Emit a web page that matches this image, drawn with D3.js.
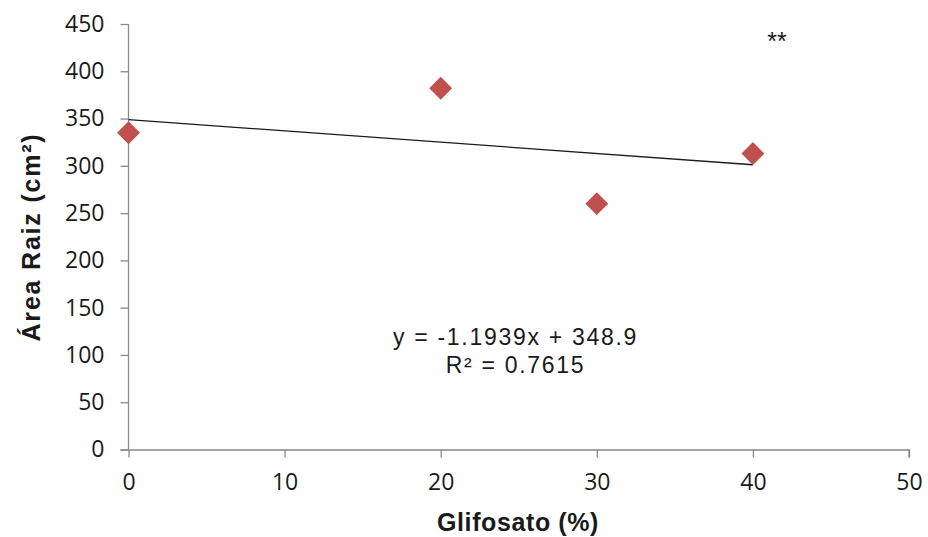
<!DOCTYPE html>
<html>
<head>
<meta charset="utf-8">
<script src="https://cdn.jsdelivr.net/npm/d3@7"></script>
<style>
  html, body { margin: 0; padding: 0; background: #fff; }
  svg { display: block; }
</style>
</head>
<body>
<svg id="chart" width="928" height="537"></svg>
<script>
// Glyphosate dose (%) and root area (cm²)
const doses = [0, 20, 30, 40];
const rootArea = [335, 382, 260, 313];
const xTicks = [0, 10, 20, 30, 40, 50];
const yTicks = [0, 50, 100, 150, 200, 250, 300, 350, 400, 450];
// Linear fit y = slope·x + intercept, R²
const slope = -1.1939;
const intercept = 348.9;
const rSquared = 0.7615;
const fitRange = [0, 40];

const svg = d3.select("#chart");
const margin = { left: 128.5, right: 19, top: 24, bottom: 87.5 };
const W = 928, H = 537;

const x = d3.scaleLinear().domain([0, 50]).range([margin.left, W - margin.right]);
const y = d3.scaleLinear().domain([0, 450]).range([H - margin.bottom, margin.top]);

const axisColor = "#888888";
const tickFont = "'Open Sans', sans-serif";
const textFont = "'Liberation Sans', Arial, sans-serif";

// Y axis
const yAxis = svg.append("g")
  .attr("transform", `translate(${margin.left},0)`)
  .call(d3.axisLeft(y).tickValues(yTicks).tickSize(8).tickPadding(16).tickFormat(d3.format("d")));
// X axis
const xAxis = svg.append("g")
  .attr("transform", `translate(0,${y(0)})`)
  .call(d3.axisBottom(x).tickValues(xTicks).tickSize(8).tickPadding(16).tickFormat(d3.format("d")));

[yAxis, xAxis].forEach(g => {
  g.select(".domain").attr("stroke", axisColor).attr("stroke-width", 1.3);
  g.selectAll(".tick line").attr("stroke", axisColor).attr("stroke-width", 1.3);
  g.selectAll(".tick text")
    .attr("fill", "#1a1a1a")
    .style("font-family", tickFont)
    .style("font-size", "23px");
});
xAxis.select(".domain").attr("d", `M${x(0) - 8},0.5H${x(50)}V8`);
yAxis.select(".domain").attr("d", `M0,${y(450)}V${y(0)}`);

// Trend line from the fitted equation
svg.append("line")
  .attr("x1", x(fitRange[0])).attr("y1", y(slope * fitRange[0] + intercept))
  .attr("x2", x(fitRange[1])).attr("y2", y(slope * fitRange[1] + intercept))
  .attr("stroke", "#1a1a1a").attr("stroke-width", 1.3);

// Diamond markers
const diamond = d3.symbol().type(d3.symbolSquare).size(262);
svg.append("g").selectAll("path")
  .data(doses.map((d, i) => ({ dose: d, area: rootArea[i] })))
  .join("path")
  .attr("d", diamond)
  .attr("transform", d => `translate(${x(d.dose)},${y(d.area)}) rotate(45)`)
  .attr("fill", "#C0504D");

// Equation and R²
const eq = svg.append("text")
  .attr("text-anchor", "middle")
  .style("font-family", textFont)
  .style("font-size", "23px")
  .style("letter-spacing", "1.7px")
  .attr("fill", "#1a1a1a");
eq.append("tspan").attr("x", 515.5).attr("y", 345)
  .text(`y = ${slope}x + ${intercept}`);
eq.append("tspan").attr("x", 515.5).attr("y", 373)
  .text(`R² = ${rSquared}`);

// Significance marker
svg.append("text")
  .attr("x", 777).attr("y", 50)
  .attr("text-anchor", "middle")
  .style("font-family", textFont)
  .style("font-size", "25px")
  .attr("fill", "#1a1a1a")
  .text("**");

// Axis titles
svg.append("text")
  .attr("transform", `translate(40,${237}) rotate(-90)`)
  .attr("text-anchor", "middle")
  .style("font-family", textFont)
  .style("font-weight", "bold")
  .style("font-size", "25px")
  .style("letter-spacing", "1.8px")
  .attr("fill", "#1a1a1a")
  .text("Área Raiz (cm²)");

svg.append("text")
  .attr("x", 518).attr("y", 531)
  .attr("text-anchor", "middle")
  .style("font-family", textFont)
  .style("font-weight", "bold")
  .style("font-size", "25px")
  .style("letter-spacing", "0.6px")
  .attr("fill", "#1a1a1a")
  .text("Glifosato (%)");
</script>
</body>
</html>
